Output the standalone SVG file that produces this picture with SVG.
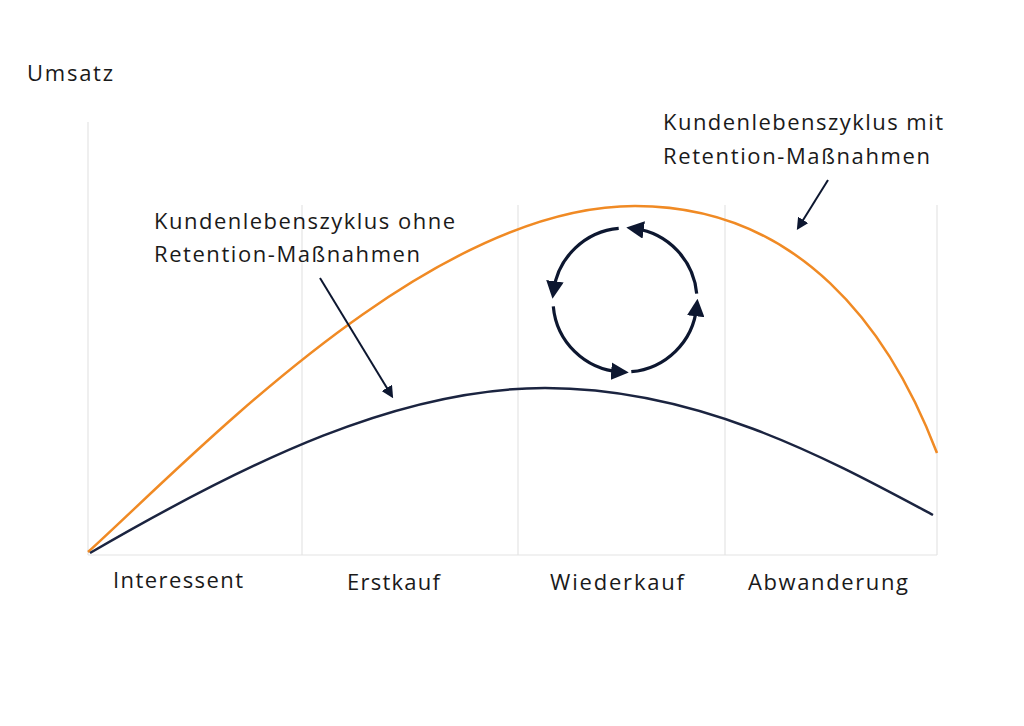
<svg xmlns="http://www.w3.org/2000/svg" width="1024" height="726" viewBox="0 0 1024 726">
<style>
text{font-family:"Open Sans","Liberation Sans",Arial,sans-serif;font-size:22px;fill:#1a1a1a}
.grid{stroke:#e4e4e4;stroke-width:1.2}
.cyc{fill:none;stroke:#0d1730;stroke-width:3.2}
</style>
<defs>
<marker id="ah" viewBox="0 0 10 10" refX="5" refY="5" markerWidth="5.5" markerHeight="5.5" orient="auto" markerUnits="strokeWidth"><path d="M0,0L10,5L0,10z" fill="#0d1730"/></marker>
<marker id="ah2" viewBox="0 0 10 10" refX="5" refY="5" markerWidth="6" markerHeight="6" orient="auto" markerUnits="strokeWidth"><path d="M0,0L10,5L0,10z" fill="#0d1730"/></marker>
</defs>
<rect width="1024" height="726" fill="#fff"/>
<g id="grid">
<line class="grid" x1="88" y1="122" x2="88" y2="555" stroke="#d8d8d8"/>
<line class="grid" x1="302" y1="205" x2="302" y2="555"/>
<line class="grid" x1="518" y1="205" x2="518" y2="555"/>
<line class="grid" x1="725" y1="205" x2="725" y2="555"/>
<line class="grid" x1="937" y1="205" x2="937" y2="555"/>
<line class="grid" x1="88" y1="555" x2="937" y2="555"/>
</g>
<g id="curves">
<path d="M88,552 C200,450 430,206 635,206 C800,206 890,330 937,453" fill="none" stroke="#f08a24" stroke-width="2.5"/>
<path d="M90,553 C250,460 400,388 545,388 C700,388 830,460 933,515" fill="none" stroke="#1b2440" stroke-width="2.5"/>
</g>
<g id="connectors">
<line x1="320" y1="278" x2="390" y2="393" stroke="#0d1730" stroke-width="2" marker-end="url(#ah2)"/>
<line x1="828" y1="180" x2="800" y2="225" stroke="#0d1730" stroke-width="2" marker-end="url(#ah2)"/>
</g>
<g id="cycle">
<path class="cyc" d="M696.7,293.7 A72,72 0 0 0 635,228.7" marker-end="url(#ah)"/>
<path class="cyc" d="M618.7,228.3 A72,72 0 0 0 553.7,290" marker-end="url(#ah)"/>
<path class="cyc" d="M553.3,306.3 A72,72 0 0 0 620,371.8" marker-end="url(#ah)"/>
<path class="cyc" d="M631.3,371.7 A72,72 0 0 0 696.6,307.5" marker-end="url(#ah)"/>
</g>
<g id="labels">
<text x="27" y="81" textLength="86">Umsatz</text>
<text x="663" y="130" textLength="280">Kundenlebenszyklus mit</text>
<text x="663" y="164" textLength="267">Retention-Maßnahmen</text>
<text x="154" y="229" textLength="301">Kundenlebenszyklus ohne</text>
<text x="154" y="262" textLength="266">Retention-Maßnahmen</text>
<text x="113" y="588" textLength="130">Interessent</text>
<text x="347" y="590" textLength="93">Erstkauf</text>
<text x="550" y="590" textLength="134">Wiederkauf</text>
<text x="748" y="590" textLength="160">Abwanderung</text>
</g>
</svg>
